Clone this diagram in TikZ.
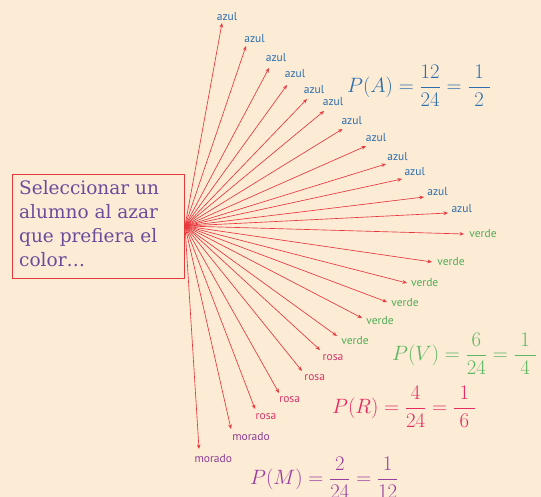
\documentclass[tikz,border=0pt]{standalone}
\usepackage{amsmath}
\usepackage{fontspec}
\usetikzlibrary{arrows.meta}
\newfontfamily\labelfont{PT Sans}
\newfontfamily\boxfont{DejaVu Serif}
\definecolor{bg}{HTML}{FCEBD5}
\definecolor{arrred}{HTML}{E8373D}
\definecolor{boxred}{HTML}{E63A3A}
\definecolor{boxtext}{HTML}{6A4C9C}
\definecolor{cazul}{HTML}{2B6DAD}
\definecolor{cverde}{HTML}{4FAE55}
\definecolor{crosa}{HTML}{D8356A}
\definecolor{cmorado}{HTML}{8E3C96}
\definecolor{fazul}{HTML}{2D6FAE}
\definecolor{fverde}{HTML}{5DB662}
\definecolor{frosa}{HTML}{E52A62}
\definecolor{fmorado}{HTML}{9A3D9E}
\begin{document}
\begin{tikzpicture}[x=1pt,y=-1pt,
  arr/.style={draw=arrred, line width=0.65pt, -{Stealth[length=4.5pt,width=3.6pt]}},
  lbl/.style={font=\labelfont\fontsize{11.5}{11.5}\selectfont, inner sep=0pt},
  formula/.style={anchor=west, inner sep=0pt, font=\fontsize{20}{24}\selectfont}]
\fill[bg] (0,0) rectangle (541,497);
\useasboundingbox (0,0) rectangle (541,497);
\clip (0,0) rectangle (541,497);
\node[draw=boxred, line width=0.8pt, minimum width=172pt, minimum height=104pt, anchor=north west, inner sep=0pt] (box) at (12,174) {};
\node[anchor=north west, inner sep=0pt, align=left, text=boxtext, font=\boxfont\fontsize{18.5}{24}\selectfont] (boxtxt) at (19,180) {Seleccionar un\\alumno al azar\\que prefiera el\\color…};
\coordinate (src) at (185,226);
\foreach \i/\tx/\ty/\lx/\ly/\txt/\col in {
  1/222/23/227/17/azul/cazul,
  2/246/46/254.5/38.5/azul/cazul,
  3/269/68/276/57.5/azul/cazul,
  4/287/85/295/74/azul/cazul,
  5/307/99/314/90/azul/cazul,
  6/324/111/333/102/azul/cazul,
  7/342.5/129/351.7/120.5/azul/cazul,
  8/366/146/376/138/azul/cazul,
  9/386/164/397.5/156.7/azul/cazul,
  10/402/179/414.7/172/azul/cazul,
  11/424/197/437.5/192/azul/cazul,
  12/448/213/461.7/209/azul/cazul,
  13/464/234/483/234/verde/cverde,
  14/432/262/451/262/verde/cverde,
  15/407/283/424.7/283/verde/cverde,
  16/387/302/405/302.5/verde/cverde,
  17/362/318/380/320.5/verde/cverde,
  18/337/336/355/340.5/verde/cverde,
  19/320/350/333/358/rosa/crosa,
  20/302/371/314.7/378/rosa/crosa,
  21/279/393/289.7/399.7/rosa/crosa,
  22/255/409/266/416.3/rosa/crosa,
  23/231/429/251/437/morado/cmorado,
  24/199/449/213.3/458.3/morado/cmorado}{
  \coordinate (t\i) at (\tx,\ty);
  \node[lbl, text=\col] (l\i) at (\lx,\ly) {\txt};
  \draw[arr] (src) -- (t\i);
}
\node[formula, text=fazul] (fA) at (347,86) {$P(A)=\dfrac{12}{24}=\dfrac{\;1\;}{2}$};
\node[formula, text=fverde] (fV) at (392,354) {$P(V)=\dfrac{6}{24}=\dfrac{\;1\;}{4}$};
\node[formula, text=frosa] (fR) at (332,407) {$P(R)=\dfrac{4}{24}=\dfrac{\;1\;}{6}$};
\node[formula, text=fmorado] (fM) at (250,478) {$P(M)=\dfrac{2}{24}=\dfrac{1}{12}$};
\end{tikzpicture}
\end{document}
